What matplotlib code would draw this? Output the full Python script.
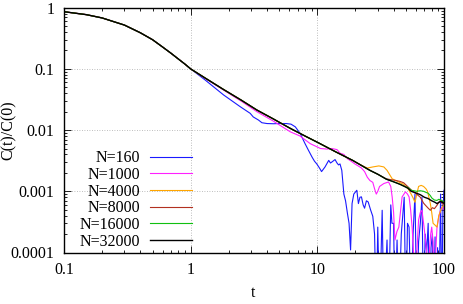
import matplotlib
matplotlib.use("Agg")
import matplotlib.pyplot as plt
from matplotlib.ticker import LogLocator, NullFormatter, FixedLocator, FixedFormatter

# ---------------- data ----------------
t_early = [0.1, 0.15, 0.2, 0.3, 0.4, 0.5, 0.6, 0.7, 0.8, 0.9, 1.0]
c_early = [0.86, 0.77, 0.68, 0.52, 0.39, 0.30, 0.228, 0.18, 0.145, 0.12, 0.10]

t_32000 = [1.3, 1.82, 2.5, 3.33, 4.5, 6.1, 8.0, 10.2, 14, 19, 26, 30, 35, 40, 45, 48,
           52, 55, 60, 65, 70, 75, 80, 85, 88, 91, 94, 97, 100]
c_32000 = [0.071, 0.046, 0.031, 0.0213, 0.0152, 0.0107, 0.0080, 0.0062, 0.0044, 0.0032,
           0.0022, 0.0019, 0.00158, 0.00143, 0.0013, 0.00122, 0.00112, 0.00100, 0.00094,
           0.00088, 0.00080, 0.00076, 0.00070, 0.00066, 0.00063, 0.00066, 0.00068,
           0.00066, 0.00064]

t_16000 = [1.3, 1.82, 2.5, 3.33, 4.5, 6.1, 8.0, 10.2, 14, 19, 26, 30, 35, 40, 45, 48,
           52, 55, 58, 61, 65, 69, 72, 75, 78, 80, 84, 88, 91, 94, 97, 100]
c_16000 = [0.071, 0.046, 0.031, 0.0213, 0.0152, 0.0107, 0.0080, 0.0062, 0.0044, 0.0032,
           0.0022, 0.0019, 0.00158, 0.00143, 0.0013, 0.00122, 0.00115, 0.00104, 0.00102,
           0.00100, 0.00102, 0.00100, 0.00096, 0.00093, 0.00085, 0.00078, 0.00072,
           0.00071, 0.00074, 0.00072, 0.00070, 0.00067]

t_8000 = [1.3, 1.82, 2.5, 3.33, 4.5, 6.1, 8.0, 10.2, 14, 19, 26, 30, 35, 38, 42, 45, 48,
          52, 56, 60, 65, 69, 72, 75, 78, 81, 84, 88, 91, 94, 97, 100]
c_8000 = [0.071, 0.046, 0.031, 0.0213, 0.0152, 0.0107, 0.0080, 0.0062, 0.0044, 0.0032,
          0.0022, 0.0019, 0.0016, 0.00155, 0.0015, 0.00145, 0.00138, 0.00118, 0.00102,
          0.00092, 0.0008, 0.00064, 0.00058, 0.00053, 0.00049, 0.00054, 0.00052,
          0.00059, 0.00066, 0.00071, 0.00062, 0.00063]

t_4000 = [1.3, 1.82, 2.5, 3.33, 4.5, 6.1, 8.0, 10.2, 14, 19, 22, 24.8, 27.4, 30.6, 33.5,
          35.5, 39, 43, 48, 52, 55, 57, 59, 61, 63, 66, 69, 72, 74, 76, 78, 80, 82, 85,
          88, 91, 94, 97, 100]
c_4000 = [0.071, 0.046, 0.031, 0.0213, 0.0152, 0.0107, 0.0080, 0.0062, 0.0044, 0.0032,
          0.0027, 0.0024, 0.0025, 0.0026, 0.0025, 0.0022, 0.0016, 0.00145, 0.0013, 0.0011,
          0.0009, 0.00078, 0.00066, 0.0009, 0.0012, 0.00125, 0.0012, 0.0011, 0.001,
          0.0008, 0.00063, 0.00045, 0.0003, 0.00028, 0.00026, 0.0004, 0.00048, 0.00056,
          0.0006]

t_1000 = [1.3, 1.82, 2.5, 3.33, 4.5, 6.1, 7.3, 8.8, 10.6, 11.9, 13, 14.3, 15.1, 16.2,
          17.3, 18.5, 19.8, 21, 22.3, 23.6, 24.8, 26, 27.4, 28.3, 29.2, 30, 31, 33.5,
          36.5, 38, 39, 40, 41, 42.5, 44, 45.5, 46.7, 49.6, 51.5, 53, 54.5, 56, 57.5,
          59.5, 61, 63, 65, 67, 69, 71, 73, 75, 77, 78.5, 80, 82, 84, 86, 88, 91, 94,
          97, 100]
c_1000 = [0.070, 0.045, 0.0298, 0.020, 0.0140, 0.0094, 0.0080, 0.0060, 0.0050, 0.0049,
          0.0050, 0.0048, 0.0042, 0.0040, 0.0034, 0.0031, 0.0028, 0.0026, 0.0024, 0.0021,
          0.0017, 0.0015, 0.0014, 0.0011, 0.0009, 0.0010, 0.0012, 0.00134, 0.00142,
          0.0012, 0.0008, 0.00045, 0.00016, 0.00022, 0.00026, 0.0005, 0.00081, 0.00098,
          0.0009, 0.00081, 0.0005, 0.00026, 0.0001, 0.00001, 0.0001, 0.00034, 0.00045,
          0.00049, 0.0003, 0.00018, 0.0001, 0.00001, 0.00012, 0.0002, 0.00026, 0.00015,
          0.00001, 0.0001, 0.00025, 0.00039, 0.0005, 0.00056, 0.0005]

t_160 = [1.3, 1.82, 2.47, 2.95, 3.12, 3.43, 3.65, 4.0, 4.5, 5.0, 5.7, 6.2, 6.7, 7.3, 8.0,
         8.5, 9.1, 9.5, 9.9, 10.4, 10.8, 11.5, 12.3, 12.7, 13.0, 13.8, 14.3, 14.7, 15.1,
         15.6, 16.2, 16.7, 17.3, 17.8, 18.3, 18.8, 19.4, 20.5, 21.1, 21.7, 22.3, 23.0,
         23.6, 24.4, 25.2, 26.3, 27.4, 28.3, 29.2, 30, 31, 32.5, 33.5, 35.5, 36.5, 38,
         38.8, 40, 41, 42.6, 44, 46, 48.5, 50, 51.5, 53, 55, 57, 59, 61, 63, 65, 67, 69,
         71, 73, 75, 77, 79, 81, 83, 85, 87, 89, 91, 94, 96, 98, 100]
c_160 = [0.066, 0.0375, 0.024, 0.0188, 0.0164, 0.0146, 0.0132, 0.0128, 0.0127, 0.0128,
         0.0128, 0.0125, 0.0113, 0.0089, 0.006, 0.0047, 0.0036, 0.0031, 0.0028, 0.0024,
         0.0021, 0.0025, 0.0032, 0.0029, 0.0030, 0.0033, 0.0029, 0.0027, 0.0028, 0.0022,
         0.0009, 0.0007, 0.00043, 0.0003, 0.00011, 0.00063, 0.0009, 0.00104, 0.00063,
         0.0008, 0.00081, 0.0006, 0.00053, 0.0007, 0.00067, 0.0005, 0.00039, 0.0002,
         0.00001, 0.00026, 0.00001, 0.00049, 0.00001, 0.00016, 0.00001, 0.0006, 0.0003,
         0.0003, 0.00001, 0.00016, 0.00001, 0.0002, 0.0008, 0.00001, 0.0003, 0.00026,
         0.00001, 0.0002, 0.0009, 0.00001, 0.00015, 0.0003, 0.0008, 0.00001, 0.0002,
         0.0001, 0.0003, 0.00001, 0.00012, 0.0002, 0.00001, 0.00018, 0.00001, 0.00012,
         0.00001, 0.0009, 0.00001, 0.0005, 0.00104]

labels = ["N=160", "N=1000", "N=4000", "N=8000", "N=16000", "N=32000"]
colors = ["#1a1aff", "#ff20ff", "#ffa500", "#b23020", "#10c010", "#000000"]

x_ticks = [0.1, 1, 10, 100]
x_ticklabels = ["0.1", "1", "10", "100"]
y_ticks = [0.0001, 0.001, 0.01, 0.1, 1]
y_ticklabels = ["0.0001", "0.001", "0.01", "0.1", "1"]

# ---------------- figure ----------------
plt.rcParams['font.family'] = ['Liberation Serif', 'DejaVu Serif']
FS = 11.5

fig = plt.figure(figsize=(4.63, 3.04), dpi=100)
ax = fig.add_axes([64/463, 1-252.5/304, 380/463, 244.8/304])

series = [(t_160, c_160), (t_1000, c_1000), (t_4000, c_4000),
          (t_8000, c_8000), (t_16000, c_16000), (t_32000, c_32000)]
for (tt, cc), lab, col in zip(series, labels, colors):
    lw = 1.0 if col == "#000000" else 0.8
    ax.plot(t_early + tt, c_early + cc, color=col, lw=lw, label=lab)

ax.set_xscale('log')
ax.set_yscale('log')
ax.set_xlim(0.1, 100)
ax.set_ylim(0.0001, 1)

ax.xaxis.set_major_locator(FixedLocator(x_ticks))
ax.xaxis.set_major_formatter(FixedFormatter(x_ticklabels))
ax.yaxis.set_major_locator(FixedLocator(y_ticks))
ax.yaxis.set_major_formatter(FixedFormatter(y_ticklabels))
ax.xaxis.set_minor_locator(LogLocator(base=10, subs=range(2, 10)))
ax.yaxis.set_minor_locator(LogLocator(base=10, subs=range(2, 10)))
ax.xaxis.set_minor_formatter(NullFormatter())
ax.yaxis.set_minor_formatter(NullFormatter())

ax.tick_params(which='both', direction='in', top=True, right=True, width=0.6)
ax.tick_params(which='major', length=5, labelsize=FS, pad=7)
ax.tick_params(which='minor', length=2.5)
for s in ax.spines.values():
    s.set_linewidth(1.0)

ax.grid(True, which='major', linestyle=(0, (1, 2)), color='#a8a8a8', linewidth=0.6)

fig.text(253/463, 1-293/304, "t", ha='center', va='center', fontsize=FS)
fig.text(9/463, 1-130/304, "C(t)/C(0)", ha='center', va='center', rotation=90, fontsize=FS)

leg = ax.legend(loc='center right', bbox_to_anchor=(200/463, 1-200/304),
                bbox_transform=fig.transFigure, frameon=False, markerfirst=False,
                handlelength=2.6, handletextpad=0.65, labelspacing=0.04,
                borderpad=0, fontsize=FS)

fig.savefig("out.png", dpi=100)
